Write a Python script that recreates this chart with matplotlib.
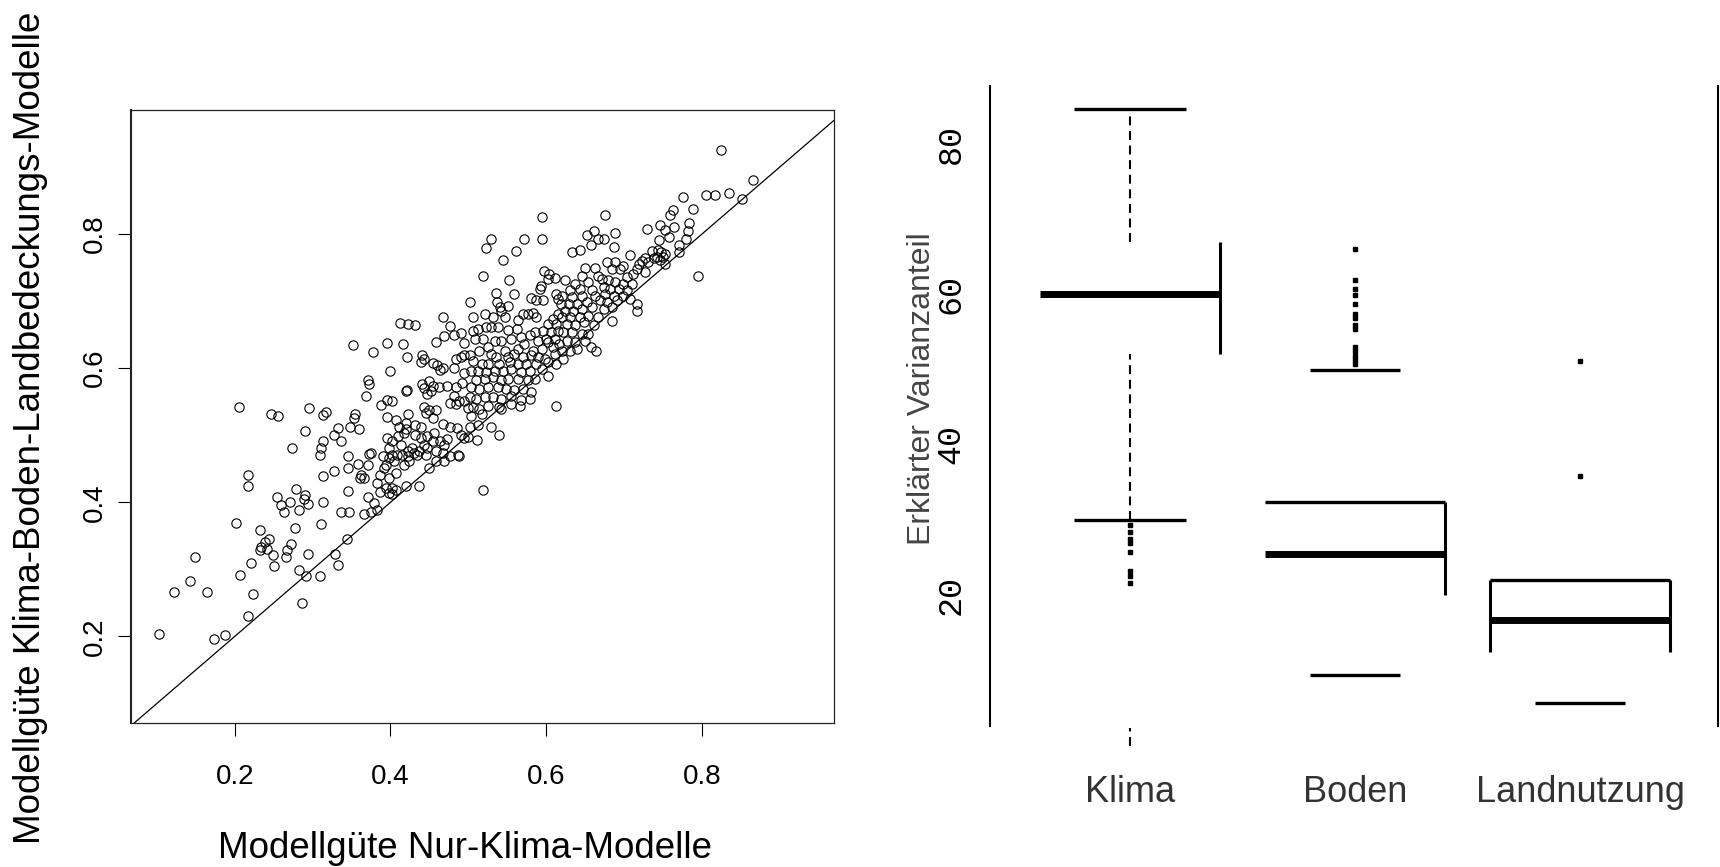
import matplotlib.pyplot as plt
import numpy as np

plt.rcParams['font.family'] = ['Liberation Sans', 'DejaVu Sans']

punkte_unten = [
    (0.205, 0.542), (0.247, 0.531), (0.256, 0.529), (0.296, 0.541), (0.314, 0.530), (0.317, 0.534),
    (0.290, 0.507), (0.332, 0.511), (0.327, 0.500), (0.336, 0.491), (0.314, 0.491), (0.311, 0.481),
    (0.309, 0.471), (0.274, 0.481), (0.313, 0.439), (0.327, 0.446), (0.217, 0.441), (0.217, 0.425),
    (0.254, 0.408), (0.279, 0.420), (0.290, 0.411), (0.289, 0.405), (0.294, 0.398), (0.271, 0.401),
    (0.259, 0.396), (0.263, 0.385), (0.282, 0.388), (0.314, 0.400), (0.336, 0.385), (0.202, 0.369),
    (0.232, 0.359), (0.244, 0.346), (0.239, 0.341), (0.234, 0.334), (0.232, 0.329), (0.242, 0.331),
    (0.249, 0.321), (0.277, 0.361), (0.272, 0.338), (0.267, 0.329), (0.266, 0.319), (0.311, 0.367),
    (0.294, 0.323), (0.329, 0.323), (0.333, 0.307), (0.250, 0.305), (0.221, 0.310), (0.207, 0.292),
    (0.283, 0.299), (0.291, 0.290), (0.309, 0.290), (0.149, 0.318), (0.142, 0.282), (0.122, 0.266),
    (0.165, 0.266), (0.224, 0.263), (0.286, 0.250), (0.217, 0.231), (0.103, 0.203), (0.173, 0.196),
    (0.188, 0.202),
]
punkte_mitte = [
    (0.467, 0.676), (0.412, 0.668), (0.422, 0.666), (0.431, 0.665), (0.477, 0.663), (0.482, 0.650),
    (0.490, 0.653), (0.469, 0.648), (0.458, 0.639), (0.495, 0.637), (0.352, 0.635), (0.396, 0.638),
    (0.416, 0.636), (0.377, 0.624), (0.421, 0.617), (0.441, 0.620), (0.443, 0.613), (0.439, 0.609),
    (0.454, 0.608), (0.460, 0.605), (0.467, 0.601), (0.464, 0.598), (0.484, 0.613), (0.490, 0.616),
    (0.494, 0.620), (0.482, 0.600), (0.494, 0.593), (0.400, 0.596), (0.371, 0.582), (0.372, 0.576),
    (0.369, 0.559), (0.421, 0.568), (0.420, 0.566), (0.441, 0.577), (0.449, 0.581), (0.443, 0.571),
    (0.454, 0.573), (0.462, 0.572), (0.473, 0.573), (0.484, 0.572), (0.492, 0.578), (0.447, 0.561),
    (0.452, 0.566), (0.482, 0.558), (0.488, 0.551), (0.494, 0.551), (0.477, 0.548), (0.484, 0.546),
    (0.499, 0.541), (0.388, 0.545), (0.396, 0.552), (0.402, 0.551), (0.443, 0.542), (0.449, 0.538),
    (0.458, 0.538), (0.445, 0.533), (0.455, 0.526), (0.422, 0.532), (0.396, 0.527), (0.407, 0.523),
    (0.355, 0.531), (0.353, 0.526), (0.348, 0.512), (0.360, 0.510), (0.411, 0.513), (0.420, 0.518),
    (0.432, 0.516), (0.439, 0.512), (0.468, 0.517), (0.477, 0.512), (0.486, 0.511), (0.456, 0.504),
    (0.447, 0.499), (0.432, 0.501), (0.439, 0.496), (0.420, 0.509), (0.417, 0.504), (0.410, 0.499),
    (0.396, 0.496), (0.402, 0.491), (0.454, 0.491), (0.464, 0.491), (0.469, 0.486), (0.473, 0.494),
    (0.490, 0.501), (0.494, 0.496), (0.443, 0.486), (0.447, 0.481), (0.437, 0.476), (0.428, 0.481),
    (0.434, 0.471), (0.446, 0.471), (0.413, 0.486), (0.422, 0.476), (0.398, 0.481), (0.402, 0.471),
    (0.409, 0.471), (0.415, 0.471), (0.430, 0.474), (0.458, 0.476), (0.467, 0.474), (0.477, 0.469),
    (0.487, 0.471), (0.488, 0.469), (0.469, 0.461), (0.458, 0.461), (0.449, 0.451), (0.375, 0.474),
    (0.371, 0.456), (0.373, 0.472), (0.391, 0.469), (0.398, 0.466), (0.394, 0.456), (0.405, 0.461),
    (0.392, 0.451), (0.424, 0.461), (0.417, 0.456), (0.422, 0.469), (0.345, 0.469), (0.345, 0.451),
    (0.358, 0.457), (0.362, 0.441), (0.361, 0.436), (0.366, 0.436), (0.387, 0.441), (0.398, 0.436),
    (0.407, 0.444), (0.383, 0.429), (0.394, 0.422), (0.402, 0.422), (0.398, 0.414), (0.407, 0.419),
    (0.402, 0.412), (0.420, 0.424), (0.437, 0.425), (0.387, 0.415), (0.345, 0.417), (0.371, 0.408),
    (0.379, 0.399), (0.383, 0.389), (0.375, 0.386), (0.366, 0.382), (0.347, 0.386), (0.344, 0.346),
]
punkte_dicht = [
    (0.594, 0.825), (0.529, 0.792), (0.523, 0.779), (0.572, 0.793), (0.595, 0.793), (0.561, 0.775),
    (0.545, 0.762), (0.519, 0.737), (0.552, 0.732), (0.597, 0.745), (0.604, 0.741), (0.602, 0.733),
    (0.611, 0.735), (0.593, 0.723), (0.592, 0.718), (0.502, 0.698), (0.536, 0.712), (0.537, 0.698),
    (0.559, 0.710), (0.581, 0.705), (0.587, 0.702), (0.596, 0.701), (0.613, 0.710), (0.615, 0.703),
    (0.619, 0.696), (0.541, 0.691), (0.551, 0.693), (0.521, 0.681), (0.506, 0.676), (0.570, 0.681),
    (0.576, 0.681), (0.583, 0.682), (0.587, 0.676), (0.564, 0.672), (0.547, 0.676), (0.542, 0.686),
    (0.532, 0.676), (0.615, 0.681), (0.609, 0.674), (0.602, 0.666), (0.613, 0.666), (0.529, 0.661),
    (0.523, 0.662), (0.538, 0.661), (0.512, 0.659), (0.506, 0.655), (0.551, 0.657), (0.562, 0.659),
    (0.585, 0.654), (0.596, 0.656), (0.606, 0.654), (0.615, 0.655), (0.508, 0.644), (0.519, 0.644),
    (0.534, 0.641), (0.542, 0.641), (0.555, 0.644), (0.568, 0.646), (0.579, 0.649), (0.589, 0.641),
    (0.600, 0.644), (0.611, 0.644), (0.602, 0.639), (0.525, 0.631), (0.514, 0.626), (0.502, 0.619),
    (0.547, 0.626), (0.564, 0.629), (0.572, 0.636), (0.583, 0.626), (0.594, 0.629), (0.609, 0.631),
    (0.617, 0.636), (0.529, 0.621), (0.536, 0.616), (0.551, 0.616), (0.559, 0.621), (0.570, 0.616),
    (0.581, 0.619), (0.589, 0.616), (0.598, 0.614), (0.611, 0.621), (0.506, 0.611), (0.517, 0.606),
    (0.525, 0.606), (0.540, 0.606), (0.553, 0.609), (0.564, 0.606), (0.574, 0.606), (0.587, 0.606),
    (0.602, 0.609), (0.613, 0.606), (0.504, 0.596), (0.512, 0.596), (0.523, 0.594), (0.534, 0.596),
    (0.544, 0.596), (0.555, 0.599), (0.568, 0.594), (0.579, 0.596), (0.594, 0.599), (0.510, 0.582),
    (0.521, 0.584), (0.532, 0.587), (0.542, 0.582), (0.551, 0.584), (0.564, 0.584), (0.577, 0.582),
    (0.585, 0.584), (0.602, 0.589), (0.504, 0.572), (0.514, 0.569), (0.525, 0.572), (0.538, 0.572),
    (0.549, 0.569), (0.559, 0.567), (0.570, 0.569), (0.581, 0.564), (0.502, 0.557), (0.510, 0.554),
    (0.521, 0.557), (0.532, 0.557), (0.542, 0.554), (0.555, 0.559), (0.568, 0.552), (0.579, 0.554),
    (0.506, 0.542), (0.514, 0.539), (0.525, 0.544), (0.540, 0.542), (0.555, 0.547), (0.566, 0.544),
    (0.613, 0.544), (0.504, 0.529), (0.517, 0.532), (0.542, 0.539), (0.502, 0.512), (0.512, 0.515),
    (0.529, 0.513), (0.540, 0.501), (0.500, 0.497), (0.511, 0.493), (0.519, 0.419),
]
punkte_oben = [
    (0.676, 0.829), (0.729, 0.808), (0.652, 0.799), (0.662, 0.804), (0.667, 0.793), (0.674, 0.793),
    (0.689, 0.801), (0.658, 0.783), (0.687, 0.781), (0.633, 0.774), (0.644, 0.776), (0.708, 0.769),
    (0.736, 0.775), (0.727, 0.765), (0.723, 0.760), (0.719, 0.755), (0.731, 0.758), (0.738, 0.765),
    (0.678, 0.759), (0.688, 0.759), (0.650, 0.750), (0.663, 0.749), (0.684, 0.748), (0.695, 0.748),
    (0.699, 0.753), (0.646, 0.738), (0.667, 0.738), (0.704, 0.736), (0.712, 0.741), (0.717, 0.748),
    (0.727, 0.743), (0.624, 0.731), (0.637, 0.726), (0.654, 0.728), (0.672, 0.733), (0.680, 0.731),
    (0.689, 0.728), (0.699, 0.726), (0.710, 0.726), (0.631, 0.716), (0.644, 0.718), (0.659, 0.716),
    (0.674, 0.721), (0.682, 0.718), (0.693, 0.718), (0.704, 0.716), (0.620, 0.708), (0.633, 0.706),
    (0.646, 0.708), (0.663, 0.708), (0.676, 0.711), (0.687, 0.708), (0.699, 0.707), (0.708, 0.703),
    (0.629, 0.696), (0.640, 0.696), (0.652, 0.698), (0.669, 0.701), (0.678, 0.698), (0.691, 0.701),
    (0.717, 0.696), (0.624, 0.686), (0.635, 0.686), (0.646, 0.688), (0.659, 0.691), (0.674, 0.688),
    (0.684, 0.691), (0.717, 0.685), (0.620, 0.676), (0.631, 0.676), (0.644, 0.676), (0.654, 0.678),
    (0.667, 0.676), (0.684, 0.671), (0.627, 0.666), (0.637, 0.664), (0.648, 0.669), (0.661, 0.664),
    (0.622, 0.654), (0.633, 0.654), (0.646, 0.651), (0.654, 0.651), (0.627, 0.641), (0.637, 0.639),
    (0.650, 0.641), (0.620, 0.626), (0.631, 0.626), (0.640, 0.629), (0.658, 0.632), (0.664, 0.625),
    (0.622, 0.614),
]
punkte_spitze = [
    (0.824, 0.926), (0.866, 0.880), (0.852, 0.853), (0.835, 0.862), (0.817, 0.859), (0.805, 0.859),
    (0.776, 0.856), (0.788, 0.837), (0.763, 0.836), (0.759, 0.828), (0.784, 0.817), (0.746, 0.814),
    (0.764, 0.811), (0.752, 0.806), (0.782, 0.804), (0.745, 0.791), (0.758, 0.795), (0.779, 0.792),
    (0.770, 0.784), (0.770, 0.774), (0.744, 0.776), (0.748, 0.774), (0.752, 0.771), (0.742, 0.766),
    (0.750, 0.766), (0.746, 0.761), (0.752, 0.756), (0.795, 0.738),
]
ticks_guete = [0.2, 0.4, 0.6, 0.8]

# Erklaerter Varianzanteil (%) je Gruppe
kategorien = ["Klima", "Boden", "Landnutzung"]
oberer_fuehler = [84.7, 49.9, None]
unterer_fuehler = [29.9, 9.3, 5.5]
q3 = [67.0, 32.3, 21.9]
median = [60.0, 25.4, 16.6]
q1 = [52.0, 19.9, 12.4]
klima_rest = [-0.2, 2.2]
ausreisser_klima = [29.2, 28.3, 27.4, 26.8, 25.7, 23.1, 22.5, 21.6]
ausreisser_boden = [66.0, 61.9, 60.7, 59.9, 58.7, 57.4, 56.8, 55.9, 55.4, 53.0, 52.4, 51.8, 51.2, 50.7]
ausreisser_land = [51.1, 35.8]
ticks_varianz = [20, 40, 60, 80]

pts = np.array(punkte_unten + punkte_mitte + punkte_dicht + punkte_oben + punkte_spitze)

fig = plt.figure(figsize=(17.2, 8.67), dpi=100)

# linkes Panel: Streudiagramm
ax1 = fig.add_axes([0.0759, 0.1661, 0.4087, 0.7070])
ax1.plot(pts[:, 0], pts[:, 1], 'o', mfc='none', mec='black', ms=6.7, mew=0.8)
ax1.axline((0, 0), slope=1, color='black', lw=0.9)
ax1.set_xlim(0.0662, 0.969)
ax1.set_ylim(0.0709, 0.985)
ax1.set_xticks(ticks_guete)
ax1.set_yticks(ticks_guete)
ax1.set_xticklabels([f"{t:.1f}" for t in ticks_guete])
ax1.set_yticklabels([f"{t:.1f}" for t in ticks_guete], rotation=90, va='center')
ax1.tick_params(axis='x', length=9.4, width=0.8, labelsize=20, pad=20)
ax1.tick_params(axis='y', length=9.4, width=0.8, labelsize=20, pad=7)
for s in ax1.spines.values():
    s.set_linewidth(0.9)
    s.set_color('#222222')
ax1.spines['left'].set_linewidth(1.5)
ax1.set_xlabel("Modellgüte Nur-Klima-Modelle", fontsize=26.5)
ax1.xaxis.set_label_coords(0.476, -0.176)
ax1.set_ylabel("Modellgüte Klima-Boden-Landbedeckungs-Modelle", fontsize=26.5)
ax1.yaxis.set_label_coords(-0.117, 0.481)

# rechtes Panel: Boxplots
ax2 = fig.add_axes([0.5756, 0.1626, 0.4233, 0.7382])
ax2.set_xlim(0.378, 3.613)
ax2.set_ylim(2.5, 87.7)
pos = [1, 2, 3]
strich = (0, (4.3, 2.7))
kw = dict(color='black', solid_capstyle='butt')

# Klima
p = pos[0]
ax2.plot([p - 0.25, p + 0.25], [oberer_fuehler[0]] * 2, lw=2.4, **kw)
ax2.plot([p - 0.25, p + 0.25], [unterer_fuehler[0]] * 2, lw=2.4, **kw)
ax2.plot([p, p], [q3[0], oberer_fuehler[0]], lw=1.5, color='black', ls=strich)
ax2.plot([p, p], [unterer_fuehler[0], q1[0]], lw=1.5, color='black', ls=strich)
ax2.plot([p, p], klima_rest, lw=1.5, color='black', ls=strich, clip_on=False)
ax2.plot([p - 0.4, p + 0.4], [median[0]] * 2, lw=5, **kw)
ax2.plot([p + 0.4, p + 0.4], [q1[0], q3[0]], lw=2.2, **kw)
ax2.plot([p] * len(ausreisser_klima), ausreisser_klima, 's', color='black', ms=2.5)

# Boden
p = pos[1]
ax2.plot([p - 0.2, p + 0.2], [oberer_fuehler[1]] * 2, lw=2.4, **kw)
ax2.plot([p - 0.2, p + 0.2], [unterer_fuehler[1]] * 2, lw=2.4, **kw)
ax2.plot([p - 0.4, p + 0.4], [q3[1]] * 2, lw=2.4, **kw)
ax2.plot([p - 0.4, p + 0.4], [median[1]] * 2, lw=5, **kw)
ax2.plot([p + 0.4, p + 0.4], [q1[1], q3[1]], lw=2.2, **kw)
ax2.plot([p] * len(ausreisser_boden), ausreisser_boden, 's', color='black', ms=2.5)

# Landnutzung
p = pos[2]
ax2.plot([p - 0.2, p + 0.2], [unterer_fuehler[2]] * 2, lw=2.4, **kw)
ax2.plot([p - 0.4, p + 0.4], [q3[2]] * 2, lw=2.4, **kw)
ax2.plot([p - 0.4, p + 0.4], [median[2]] * 2, lw=5, **kw)
ax2.plot([p - 0.4, p - 0.4], [q1[2], q3[2]], lw=2.2, **kw)
ax2.plot([p + 0.4, p + 0.4], [q1[2], q3[2]], lw=2.2, **kw)
ax2.plot([p] * len(ausreisser_land), ausreisser_land, 's', color='black', ms=3)

ax2.spines['top'].set_visible(False)
ax2.spines['bottom'].set_visible(False)
ax2.spines['left'].set_linewidth(1.5)
ax2.spines['right'].set_linewidth(1.5)
ax2.set_xticks(pos)
ax2.set_xticklabels(kategorien, fontsize=26, color='#333333')
ax2.tick_params(axis='x', length=0, pad=35)
ax2.set_yticks(ticks_varianz)
ax2.set_yticklabels([str(t) for t in ticks_varianz], rotation=90, va='center',
                    fontfamily='Liberation Mono', fontsize=24)
ax2.tick_params(axis='y', which='major', length=0, pad=17)
ax2.set_yticks([80], minor=True)
ax2.tick_params(axis='y', which='minor', length=7.2, width=2.2)
ax2.set_ylabel("Erklärter Varianzanteil", fontsize=23, color='#444444')
ax2.yaxis.set_label_coords(-0.073, 0.527)

fig.savefig('out.png', dpi=100)
